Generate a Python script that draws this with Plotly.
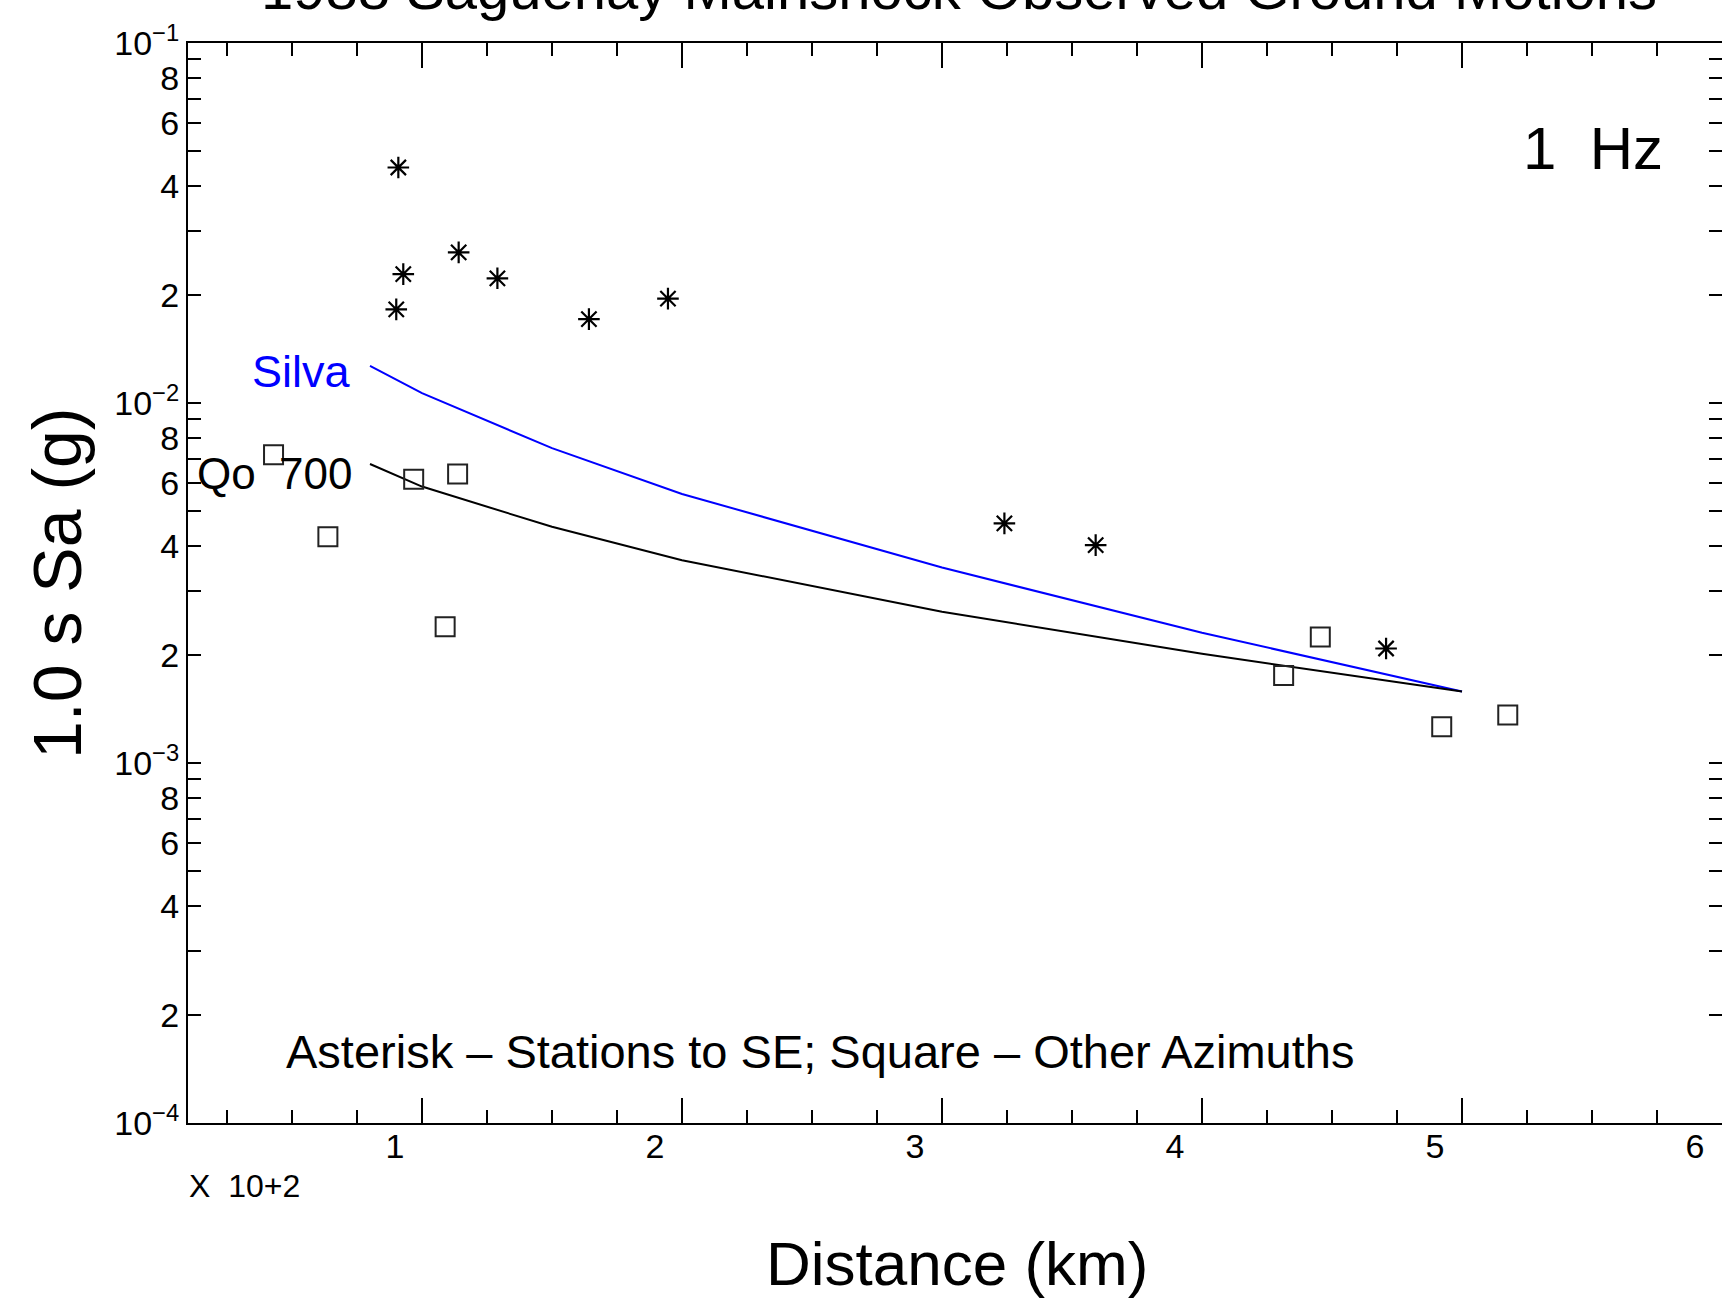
import plotly.graph_objects as go

FONT = "Liberation Sans, Arial, sans-serif"

# Observed 1.0 s spectral acceleration (g) versus hypocentral distance (km)
# Stations to the SE (asterisks)
se_dist = [90.9, 92.8, 90.1, 114.1, 129.0, 164.2, 194.6, 324.0, 359.1, 470.8]
se_sa = [0.0451, 0.0228, 0.0182, 0.0262, 0.0222, 0.0171, 0.0195, 0.00463, 0.00403, 0.00208]

# Stations at other azimuths (squares)
other_dist = [42.9, 63.8, 96.8, 113.7, 108.9, 431.4, 445.5, 492.2, 517.6]
other_sa = [0.00718, 0.00425, 0.00614, 0.00635, 0.00239, 0.00175, 0.00224, 0.00126, 0.00136]

# Model predictions
model_dist = [80, 100, 150, 200, 300, 400, 500]
silva_sa = [0.01268, 0.01065, 0.00749, 0.00559, 0.00349, 0.00230, 0.00158]
qo700_sa = [0.00677, 0.00586, 0.00453, 0.00366, 0.00263, 0.00201, 0.00158]

# Axis ticks
x_major = [100, 200, 300, 400, 500, 600]
x_major_text = ["1", "2", "3", "4", "5", "6"]
y_decades = [-4, -3, -2, -1]
y_labeled = [2, 4, 6, 8]
y_unlabeled = [3, 5, 7, 9]

y_tickvals, y_ticktext, y_minorvals = [], [], []
for e in y_decades:
    y_tickvals.append(float(f"1e{e}"))
    y_ticktext.append(f"10<sup>\u2212{-e}</sup>")
    if e == y_decades[-1]:
        continue
    for m in y_labeled:
        y_tickvals.append(float(f"{m}e{e}"))
        y_ticktext.append(str(m))
    for m in y_unlabeled:
        y_minorvals.append(float(f"{m}e{e}"))
decade_vals = [float(f"1e{e}") for e in y_decades]

fig = go.Figure()

fig.add_trace(go.Scatter(
    x=model_dist, y=silva_sa, mode="lines",
    line=dict(color="#0000ff", width=2), name="Silva",
))
fig.add_trace(go.Scatter(
    x=model_dist, y=qo700_sa, mode="lines",
    line=dict(color="black", width=2), name="Qo 700",
))
fig.add_trace(go.Scatter(
    x=se_dist, y=se_sa, mode="markers",
    marker=dict(symbol="asterisk-open", size=18, color="black",
                line=dict(color="black", width=2.2)),
    name="Stations to SE",
))
fig.add_trace(go.Scatter(
    x=other_dist, y=other_sa, mode="markers",
    marker=dict(symbol="square-open", size=19, color="#222222",
                line=dict(color="#222222", width=2)),
    name="Other Azimuths",
))

W, H = 1722, 1306
L, R, T, B = 188, 0, 43, 183
PW, PH = W - L - R, H - T - B


def px(xp):
    return (xp - L) / PW


def py(yp):
    return (H - B - yp) / PH


def note(text, x, y, size, xanchor="center", yanchor="middle", color="black", angle=0):
    fig.add_annotation(
        text=text, xref="paper", yref="paper", x=px(x), y=py(y),
        xanchor=xanchor, yanchor=yanchor, showarrow=False, textangle=angle,
        font=dict(family=FONT, size=size, color=color),
    )


note("1988 Saguenay Mainshock Observed Ground Motions", 959, 23, 58, yanchor="bottom")
note("1\u00a0\u00a0Hz", 1665, 148, 60, xanchor="right")
note("Silva", 353, 372, 45, xanchor="right", color="#0000ff")
note("Qo", 258, 473, 44, xanchor="right")
note("700", 277, 473, 44, xanchor="left")
note("Asterisk \u2013 Stations to SE; Square \u2013 Other Azimuths", 284, 1051, 47, xanchor="left")
note("X\u00a0\u00a010+2", 187, 1186, 32, xanchor="left")
note("Distance (km)", 957, 1263, 62)
note("1.0 s Sa (g)", 57, 583, 68, angle=-90)

fig.update_layout(
    width=W, height=H,
    margin=dict(l=L, r=R, t=T, b=B, autoexpand=False),
    plot_bgcolor="white", paper_bgcolor="white",
    showlegend=False,
    font=dict(family=FONT, color="black"),
    xaxis=dict(
        range=[10, 600], tickvals=x_major, ticktext=x_major_text,
        ticks="inside", ticklen=25, tickwidth=2, tickcolor="black",
        showline=True, linewidth=2, linecolor="black", mirror="ticks",
        showgrid=False, zeroline=False, automargin=False,
        tickfont=dict(family=FONT, size=34, color="black"),
        ticklabelshift=-27, ticklabelstandoff=-8,
        minor=dict(dtick=25, tick0=0, ticks="inside", ticklen=13,
                   tickwidth=2, tickcolor="black", showgrid=False),
    ),
    yaxis=dict(
        type="log", range=[-4, -1], tickvals=y_tickvals, ticktext=y_ticktext,
        ticks="inside", ticklen=13, tickwidth=2, tickcolor="black",
        showline=True, linewidth=2, linecolor="black", mirror="ticks",
        showgrid=False, zeroline=False, automargin=False,
        tickfont=dict(family=FONT, size=34, color="black"),
        minor=dict(tickvals=y_minorvals, ticks="inside", ticklen=13,
                   tickwidth=2, tickcolor="black", showgrid=False),
    ),
    yaxis2=dict(
        type="log", range=[-4, -1], overlaying="y", anchor="x", side="left",
        tickvals=decade_vals, showticklabels=False,
        ticks="inside", ticklen=25, tickwidth=2, tickcolor="black",
        showline=True, linewidth=2, linecolor="black", mirror="ticks",
        showgrid=False, zeroline=False, automargin=False,
    ),
)

fig.write_html("out.html")
